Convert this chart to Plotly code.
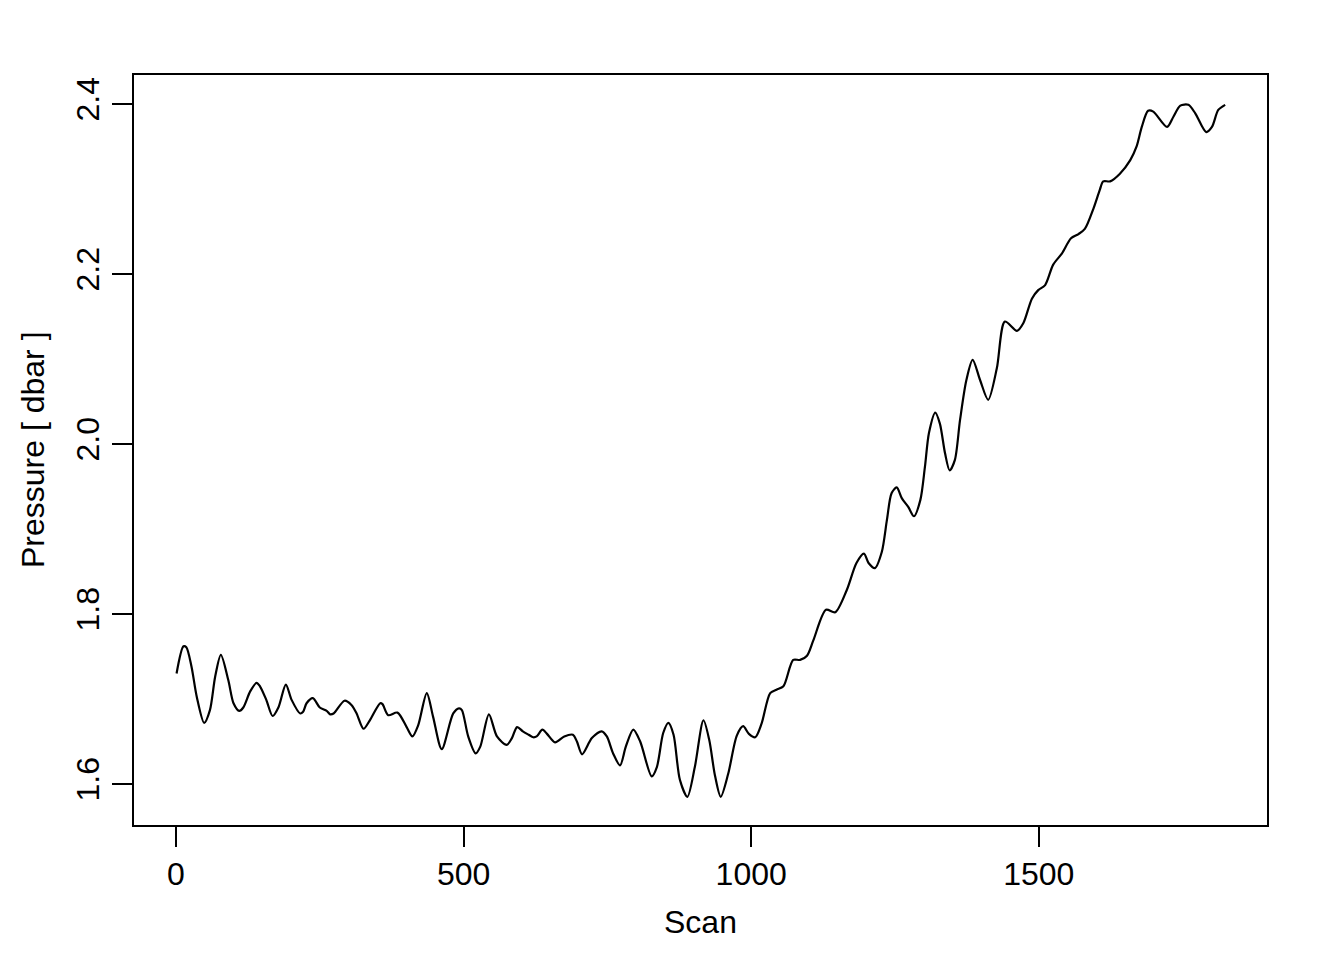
import plotly.graph_objects as go

# Scan index and pressure values
scan = [1, 13, 18, 27, 36, 49, 59, 68, 78, 91, 100, 110, 117, 129, 140, 146, 157, 168, 178, 191,
        201, 216, 221, 227, 238, 250, 262, 268, 274, 293, 305, 314, 326, 337, 355, 359, 369, 385,
        401, 411, 421, 436, 447, 462, 482, 492, 497, 508, 521, 529, 544, 558, 575, 584, 593, 603,
        613, 621, 627, 637, 645, 659, 675, 690, 697, 706, 723, 740, 749, 760, 772, 782, 795, 807,
        827, 836, 847, 856, 865, 876, 889, 902, 917, 927, 937, 947, 960, 975, 986, 996, 1007, 1018,
        1033, 1044, 1056, 1073, 1085, 1097, 1108, 1130, 1146, 1166, 1183, 1196, 1204, 1215, 1227,
        1236, 1244, 1253, 1262, 1273, 1283, 1294, 1302, 1309, 1320, 1328, 1337, 1345, 1354, 1363,
        1374, 1385, 1398, 1412, 1427, 1441, 1462, 1473, 1488, 1499, 1511, 1525, 1540, 1556, 1569,
        1580, 1595, 1606, 1612, 1624, 1641, 1659, 1670, 1679, 1690, 1699, 1723, 1734, 1746, 1760,
        1772, 1791, 1801, 1812, 1824]
pressure = [1.730, 1.762, 1.761, 1.738, 1.703, 1.672, 1.687, 1.726, 1.752, 1.722, 1.695, 1.686,
            1.690, 1.709, 1.719, 1.715, 1.699, 1.680, 1.690, 1.717, 1.699, 1.683, 1.685, 1.695,
            1.701, 1.690, 1.686, 1.682, 1.683, 1.698, 1.693, 1.683, 1.665, 1.675, 1.695, 1.694,
            1.681, 1.684, 1.667, 1.656, 1.669, 1.707, 1.679, 1.641, 1.683, 1.689, 1.687, 1.656,
            1.636, 1.644, 1.682, 1.656, 1.646, 1.654, 1.667, 1.662, 1.658, 1.655, 1.656, 1.664,
            1.659, 1.649, 1.656, 1.658, 1.650, 1.635, 1.654, 1.662, 1.656, 1.636, 1.622, 1.644,
            1.664, 1.650, 1.609, 1.620, 1.660, 1.672, 1.658, 1.605, 1.585, 1.620, 1.675, 1.652,
            1.610, 1.585, 1.612, 1.657, 1.668, 1.659, 1.655, 1.671, 1.707, 1.711, 1.715, 1.746,
            1.746, 1.751, 1.769, 1.805, 1.802, 1.828, 1.860, 1.871, 1.860, 1.854, 1.873, 1.911,
            1.942, 1.949, 1.936, 1.926, 1.915, 1.934, 1.973, 2.013, 2.037, 2.024, 1.989, 1.969,
            1.981, 2.028, 2.075, 2.099, 2.075, 2.052, 2.089, 2.144, 2.133, 2.142, 2.171, 2.181,
            2.187, 2.211, 2.224, 2.242, 2.247, 2.253, 2.277, 2.299, 2.309, 2.309, 2.318, 2.334,
            2.350, 2.373, 2.392, 2.391, 2.373, 2.385, 2.398, 2.399, 2.389, 2.367, 2.373, 2.393,
            2.399]

x_ticks = [0, 500, 1000, 1500]
y_ticks = [1.6, 1.8, 2.0, 2.2, 2.4]

FONT = "Liberation Sans, Arial, Helvetica, sans-serif"
FS = 32

# page body has an 8px margin; compensate so the plot box lands where it should
OFF = 8
L, R, T, B = 134 - OFF, 77 + OFF, 75 - OFF, 135 + OFF

fig = go.Figure()
fig.add_trace(go.Scatter(x=scan, y=pressure, mode="lines",
                         line=dict(color="black", width=2.2, shape="spline", smoothing=0.8),
                         showlegend=False, hoverinfo="x+y"))

fig.update_layout(
    width=1344, height=960,
    margin=dict(l=L, r=R, t=T, b=B),
    paper_bgcolor="white", plot_bgcolor="white",
    font=dict(family=FONT, size=FS, color="black"),
    xaxis=dict(range=[-73, 1896.7], tickvals=x_ticks, ticktext=[str(v) for v in x_ticks],
               ticks="outside", ticklen=20, tickwidth=1.8, tickcolor="black",
               showline=True, linecolor="black", linewidth=1.8, mirror=True,
               showgrid=False, zeroline=False, tickfont=dict(size=FS)),
    yaxis=dict(range=[1.5518, 2.4341], tickvals=y_ticks, ticktext=[f"{v:.1f}" for v in y_ticks],
               ticks="outside", ticklen=20, tickwidth=1.8, tickcolor="black", tickangle=-90,
               showline=True, linecolor="black", linewidth=1.8, mirror=True,
               showgrid=False, zeroline=False, tickfont=dict(size=FS)),
)

plot_w = 1344 - L - R
plot_h = 960 - T - B
fig.add_annotation(text="Scan", xref="paper", yref="paper",
                   x=0.5, y=(825 - 922) / plot_h, showarrow=False,
                   font=dict(size=FS), xanchor="center", yanchor="middle")
fig.add_annotation(text="Pressure [ dbar ]", xref="paper", yref="paper",
                   x=(33 - 134) / plot_w, y=(825 - 450) / plot_h, showarrow=False,
                   textangle=-90, font=dict(size=FS), xanchor="center", yanchor="middle")

fig.write_html("out.html")
